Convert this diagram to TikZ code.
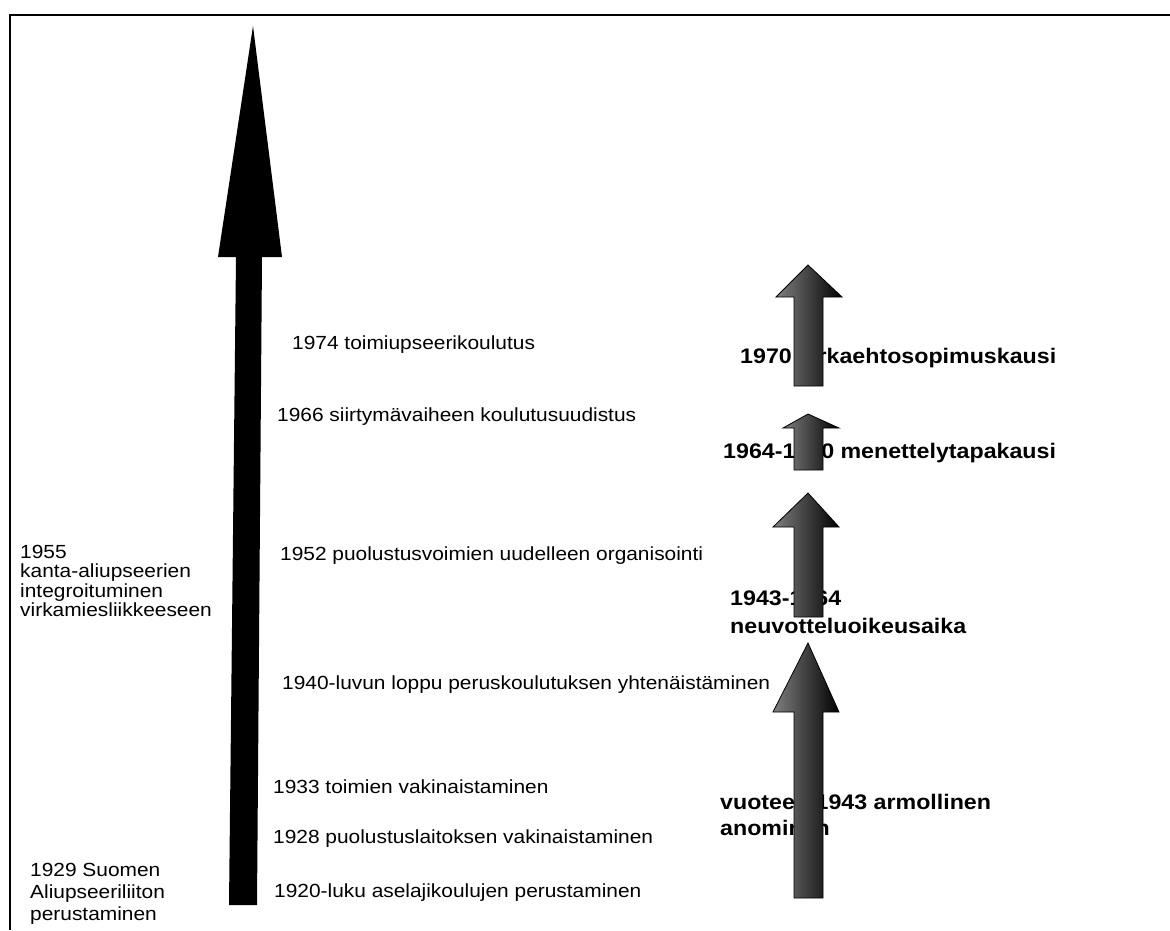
\documentclass[tikz,border=0pt]{standalone}
\usepackage{fontspec}
\setmainfont{Liberation Sans}[FakeStretch=1.1]
\usepackage{tikz}

\begin{document}
\begin{tikzpicture}[x=1pt,y=-1pt,font=\fontsize{19}{19.3}\selectfont,
  lbl/.style={anchor=west,inner sep=0pt,align=left},
  kausi/.style={anchor=west,inner sep=0pt,align=left,font=\fontsize{21.1}{27}\selectfont\bfseries},
  kaari/.style={draw=black,line width=0.8pt,left color=black!50,middle color=black!55,right color=black}]
\useasboundingbox (0,0) rectangle (1170,930);
\draw [line width=1.5pt] (10,930) -- (10,15) -- (1170,15);
% main arrow
\fill (253,26) -- (282,257) -- (262,257) -- (257,905) -- (229,905) -- (236,257) -- (218,257) -- cycle;
\foreach \i/\x/\y/\txt in {1/292/345/1974 toimiupseerikoulutus,2/277/417/1966 siirtymävaiheen koulutusuudistus,3/280/556/1952 puolustusvoimien uudelleen organisointi,4/282/685/1940-luvun loppu peruskoulutuksen yhtenäistäminen,5/273/787/1933 toimien vakinaistaminen,6/273/839/1928 puolustuslaitoksen vakinaistaminen,7/274/893/1920-luku aselajikoulujen perustaminen} {
  \node [lbl] (ev\i) at (\x,\y) {\txt};
}
\node [lbl] (integ) at (20,581) {1955\\kanta-aliupseerien\\integroituminen\\virkamiesliikkeeseen};
\node [lbl,font=\fontsize{19}{22}\selectfont] (liitto) at (30,894) {1929 Suomen\\Aliupseeriliiton\\perustaminen};
% bold periods on the right
\node [kausi] (ves) at (740,358) {1970 virkaehtosopimuskausi};
\node [kausi] (menet) at (723,453) {1964-1970 menettelytapakausi};
\node [kausi,font=\fontsize{21.1}{28}\selectfont\bfseries] (neuv) at (730,612) {1943-1964\\neuvotteluoikeusaika};
\node [kausi,font=\fontsize{21.1}{26}\selectfont\bfseries] (anom) at (720,815) {vuoteen 1943 armollinen\\anominen};
% block arrows over the periods
\foreach \t/\hb/\hl/\hr/\e in {265/297/776/842/386,414/428/783/839/470,493/527/773/839/617,643/712/773/839/898} {
  \draw [kaari] (808,\t) -- (\hr,\hb) -- (823,\hb) -- (823,\e) -- (794,\e) -- (794,\hb) -- (\hl,\hb) -- cycle;
}
\end{tikzpicture}
\end{document}
